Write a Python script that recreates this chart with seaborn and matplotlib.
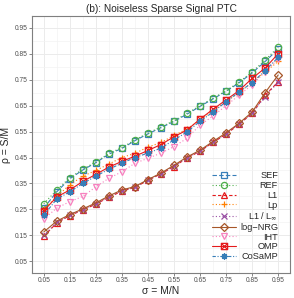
import matplotlib
matplotlib.use("Agg")
import matplotlib.pyplot as plt
import seaborn as sns
import numpy as np
from matplotlib.path import Path

sigma = [0.05, 0.10, 0.15, 0.20, 0.25, 0.30, 0.35, 0.40, 0.45, 0.50,
         0.55, 0.60, 0.65, 0.70, 0.75, 0.80, 0.85, 0.90, 0.95]

sef = [0.255, 0.318, 0.368, 0.402, 0.430, 0.463, 0.485, 0.515, 0.541, 0.565,
       0.589, 0.617, 0.647, 0.676, 0.705, 0.738, 0.776, 0.820, 0.868]
ref = [0.272, 0.325, 0.372, 0.405, 0.433, 0.466, 0.488, 0.518, 0.544, 0.568,
       0.592, 0.620, 0.650, 0.679, 0.707, 0.741, 0.780, 0.826, 0.875]
l1 = [0.146, 0.198, 0.226, 0.248, 0.270, 0.297, 0.320, 0.335, 0.362, 0.387,
      0.415, 0.448, 0.474, 0.508, 0.540, 0.578, 0.620, 0.690, 0.742]
lp = [0.250, 0.300, 0.345, 0.378, 0.400, 0.425, 0.450, 0.466, 0.490, 0.508,
      0.535, 0.560, 0.595, 0.630, 0.665, 0.700, 0.740, 0.780, 0.820]
l1linf = [0.150, 0.200, 0.227, 0.249, 0.271, 0.298, 0.321, 0.336, 0.363, 0.388,
          0.416, 0.449, 0.475, 0.509, 0.542, 0.579, 0.621, 0.685, 0.740]
lognrg = [0.163, 0.205, 0.230, 0.252, 0.275, 0.302, 0.325, 0.338, 0.365, 0.390,
          0.420, 0.452, 0.478, 0.512, 0.545, 0.582, 0.625, 0.700, 0.768]
iht = [0.213, 0.255, 0.280, 0.300, 0.337, 0.370, 0.395, 0.428, 0.447, 0.467,
       0.492, 0.524, 0.575, 0.610, 0.650, 0.690, 0.730, 0.780, 0.830]
omp = [0.245, 0.298, 0.325, 0.358, 0.385, 0.413, 0.435, 0.455, 0.477, 0.500,
       0.530, 0.556, 0.598, 0.636, 0.672, 0.708, 0.755, 0.795, 0.850]
cosamp = [0.228, 0.290, 0.318, 0.350, 0.378, 0.405, 0.428, 0.450, 0.467, 0.486,
          0.518, 0.548, 0.590, 0.625, 0.665, 0.703, 0.738, 0.785, 0.836]

labels = ["SEF", "REF", "L1", "Lp", r"L1 / L$_{\infty}$", "log\u2212NRG", "IHT", "OMP", "CoSaMP"]
series = [sef, ref, l1, lp, l1linf, lognrg, iht, omp, cosamp]

# square with a cross (ggplot shape 7)
boxx = Path([(-1, -1), (1, -1), (1, 1), (-1, 1), (-1, -1), (-1, -1), (1, 1), (-1, 1), (1, -1)],
            [Path.MOVETO, Path.LINETO, Path.LINETO, Path.LINETO, Path.CLOSEPOLY,
             Path.MOVETO, Path.LINETO, Path.MOVETO, Path.LINETO])

styles = [
    ("#377EB8", "s", (0, (4, 2))),
    ("#4DAF4A", "o", (0, (1, 2))),
    ("#E41A1C", "^", (0, (3, 2))),
    ("#FF7F00", "+", (0, (1, 2))),
    ("#984EA3", "x", (0, (1, 2))),
    ("#A65628", "D", "-"),
    ("#F781BF", "v", (0, (1, 2))),
    ("#E41A1C", boxx, "-"),
    ("#377EB8", (8, 2, 0), (0, (3, 1.5, 1, 1.5))),
]

sns.set_theme(style="white")
plt.rcParams["font.family"] = ["Liberation Sans", "DejaVu Sans"]

fig = plt.figure(figsize=(2.94, 2.98), dpi=100)
ax = fig.add_axes([0.109, 0.084, 0.877, 0.862])

for lab, vals, (col, mk, ls) in zip(labels, series, styles):
    sns.lineplot(x=sigma, y=vals, ax=ax, label=lab, color=col, marker=mk,
                 linestyle=ls, linewidth=0.8, markersize=4.5,
                 markerfacecolor="none", markeredgecolor=col, markeredgewidth=0.9)

ticks = [0.05, 0.15, 0.25, 0.35, 0.45, 0.55, 0.65, 0.75, 0.85, 0.95]
minor = [0.1, 0.2, 0.3, 0.4, 0.5, 0.6, 0.7, 0.8, 0.9]
ax.set_xlim(0.005, 0.995)
ax.set_ylim(0.005, 0.995)
ax.set_xticks(ticks)
ax.set_yticks(ticks)
ax.set_xticks(minor, minor=True)
ax.set_yticks(minor, minor=True)
ax.set_xticklabels([f"{t:.2f}" for t in ticks])
ax.set_yticklabels([f"{t:.2f}" for t in ticks])
ax.grid(which="major", color="#EBEBEB", linewidth=0.7)
ax.grid(which="minor", color="#F3F3F3", linewidth=0.5)
ax.set_axisbelow(True)
ax.tick_params(which="major", length=2, width=0.5, color="#555555",
               labelsize=4.8, labelcolor="#4D4D4D", pad=1.0, bottom=True, left=True)
ax.tick_params(which="minor", length=0)
for s in ax.spines.values():
    s.set_color("#7F7F7F")
    s.set_linewidth(0.8)

ax.set_xlabel("\u03c3 = M/N", fontsize=7.5, labelpad=1.5)
ax.set_ylabel("\u03c1 = S/M", fontsize=7.5, labelpad=2.5)
ax.set_title("(b): Noiseless Sparse Signal PTC", fontsize=7.3, pad=3)

leg = ax.legend(loc="lower right", bbox_to_anchor=(1.0, 0.0), frameon=False,
                fontsize=6.6, handlelength=2.6, handletextpad=0.4, labelspacing=0.08,
                borderpad=0.5, borderaxespad=0.8)

# right-align the legend labels, as in the reference
fig.canvas.draw()
r = fig.canvas.get_renderer()
texts = leg.get_texts()
widths = [t.get_window_extent(r).width for t in texts]
wmax = max(widths)
for t, w in zip(texts, widths):
    t.set_position((wmax - w, 0))

fig.savefig("out.png", dpi=100)
